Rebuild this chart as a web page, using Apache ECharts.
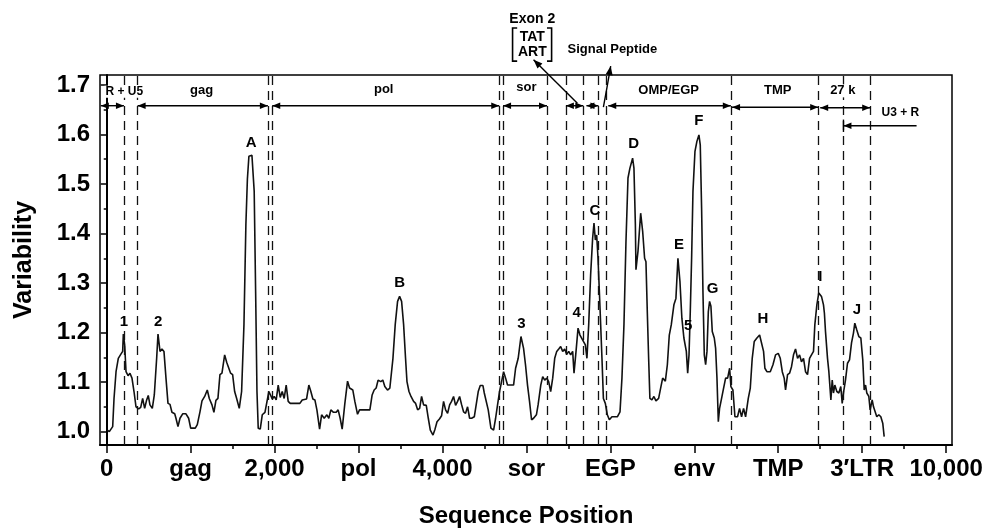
<!DOCTYPE html>
<html><head><meta charset="utf-8">
<script src="https://cdn.jsdelivr.net/npm/echarts@6/dist/echarts.min.js"></script>
<style>html,body{margin:0;padding:0;background:#fff}#c{width:982px;height:530px}</style>
</head><body><div id="c"></div>
<script>
const seqPos = [7,31,71,87,111,138,167,190,198,214,230,254,277,301,325,349,381,405,428,452,476,495,515,543,567,595,611,635,658,682,706,730,754,777,810,825,849,873,905,944,976,1000,1055,1079,1111,1135,1167,1198,1222,1254,1277,1301,1325,1349,1373,1405,1429,1452,1476,1500,1524,1548,1579,1607,1635,1658,1676,1694,1730,1757,1774,1790,1805,1829,1853,1885,1908,1932,1948,1972,1995,2019,2043,2067,2091,2114,2138,2162,2186,2301,2329,2381,2408,2432,2456,2480,2504,2536,2560,2591,2623,2646,2670,2702,2734,2757,2781,2805,2837,2869,2893,2932,2956,2988,3012,3135,3162,3186,3210,3233,3265,3289,3313,3345,3373,3410,3437,3465,3489,3513,3537,3560,3577,3601,3625,3656,3680,3704,3728,3751,3775,3807,3831,3855,3887,3911,3935,3966,3989,4013,4037,4061,4085,4108,4132,4156,4180,4204,4227,4251,4275,4299,4323,4347,4379,4402,4426,4450,4482,4498,4521,4545,4577,4609,4633,4656,4680,4704,4728,4752,4775,4847,4871,4902,4935,4966,4989,5013,5037,5061,5085,5119,5139,5171,5194,5218,5242,5265,5289,5313,5337,5361,5385,5408,5432,5456,5480,5504,5527,5551,5567,5591,5615,5638,5655,5679,5702,5721,5742,5765,5789,5805,5821,5837,5853,5877,5900,5917,5940,5964,5988,6019,6083,6115,6138,6162,6186,6210,6233,6265,6281,6298,6305,6329,6361,6385,6408,6424,6440,6456,6471,6495,6519,6543,6575,6599,6623,6655,6679,6702,6726,6757,6781,6805,6829,6852,6876,6905,6921,6937,6952,6968,6984,7008,7031,7055,7071,7087,7103,7119,7135,7151,7167,7182,7198,7214,7238,7254,7270,7286,7301,7325,7349,7373,7397,7421,7436,7460,7484,7515,7539,7563,7587,7611,7643,7667,7690,7714,7746,7778,7801,7825,7841,7865,7905,7937,7968,8000,8024,8048,8071,8087,8111,8135,8158,8182,8206,8230,8254,8277,8301,8325,8349,8373,8396,8420,8436,8460,8483,8515,8539,8550,8563,8587,8603,8627,8643,8658,8674,8698,8722,8745,8762,8777,8801,8825,8849,8873,8896,8912,8936,8960,8984,9007,9024,9040,9055,9079,9095,9119,9135,9150,9174,9198,9222,9245,9262];
const variability = [1.003,1.000,1.010,1.067,1.121,1.148,1.156,1.162,1.197,1.175,1.121,1.113,1.118,1.108,1.081,1.050,1.046,1.049,1.067,1.047,1.064,1.073,1.054,1.047,1.074,1.148,1.197,1.162,1.167,1.162,1.108,1.057,1.055,1.039,1.036,1.027,1.010,1.027,1.036,1.036,1.027,1.007,1.007,1.014,1.040,1.062,1.071,1.084,1.067,1.054,1.039,1.063,1.067,1.115,1.118,1.155,1.140,1.136,1.118,1.115,1.081,1.067,1.047,1.081,1.216,1.418,1.510,1.556,1.558,1.485,1.283,1.081,1.007,1.005,1.034,1.039,1.040,1.081,1.084,1.066,1.071,1.064,1.094,1.069,1.081,1.067,1.094,1.061,1.057,1.057,1.064,1.066,1.094,1.081,1.066,1.064,1.044,1.005,1.034,1.027,1.034,1.027,1.044,1.039,1.039,1.044,1.027,1.005,1.057,1.102,1.088,1.084,1.061,1.035,1.044,1.044,1.074,1.084,1.088,1.104,1.101,1.104,1.091,1.084,1.088,1.148,1.216,1.263,1.273,1.263,1.216,1.148,1.101,1.081,1.071,1.061,1.057,1.044,1.047,1.071,1.054,1.053,1.027,1.003,0.993,1.005,1.020,1.026,1.032,1.061,1.044,1.037,1.054,1.061,1.071,1.053,1.061,1.071,1.055,1.040,1.037,1.050,1.027,1.027,1.030,1.034,1.081,1.093,1.093,1.078,1.081,1.044,1.007,1.003,1.027,1.054,1.081,1.101,1.121,1.108,1.094,1.094,1.128,1.148,1.192,1.168,1.135,1.094,1.061,1.024,1.027,1.034,1.054,1.094,1.111,1.104,1.108,1.101,1.081,1.108,1.148,1.162,1.167,1.172,1.162,1.167,1.156,1.162,1.155,1.162,1.118,1.162,1.209,1.195,1.199,1.182,1.175,1.148,1.216,1.317,1.391,1.421,1.387,1.397,1.350,1.249,1.148,1.067,1.057,1.034,1.024,1.030,1.030,1.040,1.108,1.216,1.384,1.512,1.532,1.552,1.532,1.418,1.327,1.364,1.441,1.404,1.350,1.343,1.242,1.148,1.067,1.064,1.071,1.062,1.067,1.088,1.108,1.102,1.135,1.195,1.216,1.256,1.269,1.350,1.303,1.229,1.189,1.162,1.118,1.155,1.242,1.350,1.485,1.566,1.586,1.599,1.579,1.451,1.283,1.155,1.135,1.162,1.242,1.263,1.253,1.202,1.189,1.168,1.108,1.020,1.047,1.067,1.088,1.108,1.108,1.128,1.091,1.084,1.030,1.030,1.047,1.030,1.047,1.030,1.067,1.088,1.148,1.182,1.189,1.195,1.199,1.162,1.128,1.121,1.121,1.135,1.155,1.158,1.148,1.121,1.108,1.084,1.115,1.118,1.131,1.155,1.167,1.148,1.155,1.141,1.148,1.121,1.115,1.148,1.155,1.162,1.216,1.256,1.280,1.273,1.256,1.239,1.202,1.148,1.121,1.064,1.104,1.078,1.094,1.081,1.078,1.091,1.057,1.078,1.104,1.138,1.145,1.179,1.199,1.219,1.205,1.192,1.189,1.145,1.084,1.094,1.078,1.071,1.044,1.064,1.050,1.047,1.030,1.034,1.030,1.017,0.990];

const xTickValues = [0,1000,2000,3000,4000,5000,6000,7000,8000,9000,10000];
const xTickLabels = ['0','gag','2,000','pol','4,000','sor','EGP','env','TMP','3\u2032LTR','10,000'];
const xMinorTicks = [500,1500,2500,3500,4500,5500,6500,7500,8500,9500];
const yTickValues = [1.0,1.1,1.2,1.3,1.4,1.5,1.6,1.7];
const yMinorTicks = [1.05,1.15,1.25,1.35,1.45,1.55,1.65];
const boundaries = [205,368,1920,1972,4676,4722,5254,5470,5678,5858,5952,7435,8476,8777,9095];
// regions: label, start, end, arrow level, label x, label level, heads [left,right]
const regions = [
  ['R + U5', -70, 205, 1.658, 210, 1.686, [1,1]],
  ['gag', 368, 1920, 1.658, 1131, 1.688, [1,1]],
  ['pol', 1972, 4676, 1.658, 3300, 1.690, [1,1]],
  ['sor', 4722, 5245, 1.658, 5000, 1.694, [1,1]],
  ['', 5470, 5678, 1.658, 0, 0, [1,1]],
  ['', 5715, 5858, 1.658, 0, 0, [1,1]],
  ['OMP/EGP', 5975, 7435, 1.658, 6694, 1.688, [1,1]],
  ['TMP', 7450, 8476, 1.655, 7995, 1.688, [1,1]],
  ['27 k', 8500, 9095, 1.654, 8769, 1.688, [1,1]],
  ['U3 + R', 8777, 9648, 1.6176, 9455, 1.643, [1,0]]
];
const peakLabels = [['1',206,1.222],['2',612,1.222],['A',1721,1.583],['B',3490,1.300],['3',4939,1.218],['4',5598,1.240],['C',5817,1.446],['D',6278,1.581],['E',6819,1.377],['5',6926,1.214],['F',7053,1.628],['G',7217,1.288],['H',7817,1.228],['I',8500,1.313],['J',8938,1.246]];

const FONT = '"Liberation Sans", Arial, Helvetica, sans-serif';
const lineData = seqPos.map((p,i)=>[p, variability[i]]);

const chart = echarts.init(document.getElementById('c'), null, {renderer:'canvas'});
const axisCommon = {min:0.973, max:1.72};
const option = {
  animation:false,
  backgroundColor:'#fff',
  grid:{left:100, right:30, top:75, bottom:85, show:true, borderColor:'#000', borderWidth:1.5, backgroundColor:'transparent', containLabel:false, outerBoundsMode:'none'},
  xAxis:[{
    type:'value', min:-80, max:10070, position:'bottom',
    axisLine:{show:true, lineStyle:{color:'#000', width:2}},
    axisTick:{show:true, customValues:xTickValues, length:8, lineStyle:{color:'#000', width:1.5}},
    axisLabel:{show:true, customValues:xTickValues, margin:12, color:'#000', fontFamily:FONT, fontWeight:'bold', fontSize:24,
      formatter:(v)=>{const i=xTickValues.indexOf(v); return i>=0?xTickLabels[i]:'';}},
    splitLine:{show:false},
    name:'Sequence Position', nameLocation:'middle', nameGap:59,
    nameTextStyle:{color:'#000', fontFamily:FONT, fontWeight:'bold', fontSize:24}
  },{
    type:'value', min:-80, max:10070, position:'bottom',
    axisLine:{show:false},
    axisTick:{show:true, customValues:xMinorTicks, length:4, lineStyle:{color:'#000', width:1.5}},
    axisLabel:{show:false}, splitLine:{show:false}
  }],
  yAxis:[{
    type:'value', ...axisCommon, position:'left',
    axisLine:{show:true, lineStyle:{color:'#000', width:2}},
    axisTick:{show:true, customValues:yTickValues, length:6, lineStyle:{color:'#000', width:1.5}},
    axisLabel:{show:true, customValues:yTickValues, margin:10, color:'#000', fontFamily:FONT, fontWeight:'bold', fontSize:24,
      formatter:(v)=>v.toFixed(1)},
    splitLine:{show:false},
    name:'Variability', nameLocation:'middle', nameGap:63, nameRotate:90,
    nameTextStyle:{color:'#000', fontFamily:FONT, fontWeight:'bold', fontSize:25}
  },{
    type:'value', ...axisCommon, position:'left',
    axisLine:{show:false},
    axisTick:{show:true, customValues:yMinorTicks, length:3, lineStyle:{color:'#000', width:1.5}},
    axisLabel:{show:false}, splitLine:{show:false}
  }],
  series:[{
    type:'line', data:lineData, xAxisIndex:0, yAxisIndex:0,
    showSymbol:false, symbol:'none', smooth:false,
    lineStyle:{color:'#111', width:1.6},
    markLine:{silent:true, symbol:['none','none'], label:{show:false},
      lineStyle:{color:'#111', width:1.3, type:[9,6]},
      data: boundaries.map(b=>({xAxis:b}))}
  }]
};
chart.setOption(option);

const P = (x,y)=>chart.convertToPixel({seriesIndex:0},[x,y]);
const g = [];
const ST = {stroke:'#000', lineWidth:1.4};
function head(tip, from, len, hw){
  len = len||8; hw = hw||3.2;
  const dx = tip[0]-from[0], dy = tip[1]-from[1];
  const d = Math.sqrt(dx*dx+dy*dy)||1; const ux=dx/d, uy=dy/d;
  const bx = tip[0]-ux*len, by = tip[1]-uy*len;
  return {type:'polygon', shape:{points:[[tip[0],tip[1]],[bx-uy*hw,by+ux*hw],[bx+uy*hw,by-ux*hw]]}, style:{fill:'#000'}, z:100};
}
function txt(s, p, size, bg){
  const st = {text:s, fill:'#000', font:'bold '+size+'px '+FONT, textAlign:'center', textVerticalAlign:'middle'};
  if(bg){ st.backgroundColor = '#fff'; st.padding = [0,1]; }
  return {type:'text', x:p[0], y:p[1], style:st, z:100};
}
regions.forEach(r=>{
  const a=P(r[1],r[3]), b=P(r[2],r[3]);
  g.push({type:'line', shape:{x1:a[0],y1:a[1],x2:b[0],y2:b[1]}, style:ST, z:100});
  if(r[6][0]) g.push(head(a,b));
  if(r[6][1]) g.push(head(b,a));
  if(r[0]) g.push(txt(r[0], P(r[4], r[5]), r[0]==='R + U5'||r[0]==='U3 + R'?12:13, true));
});
// U3 + R start bar
(function(){const a=P(8777,1.630), b=P(8777,1.605); g.push({type:'line', shape:{x1:a[0],y1:a[1],x2:b[0],y2:b[1]}, style:ST, z:100});})();
peakLabels.forEach(p=>g.push(txt(p[0], P(p[1],p[2]), 15)));
// Exon 2 annotation
g.push(txt('Exon 2', P(5070,1.832), 14));
g.push(txt('TAT', P(5070,1.797), 14));
g.push(txt('ART', P(5070,1.766), 14));
[[4835,4890],[5300,5245]].forEach(bk=>{
  const t1=P(bk[1],1.815), t0=P(bk[0],1.815), b0=P(bk[0],1.748), b1=P(bk[1],1.748);
  g.push({type:'polyline', shape:{points:[t1,t0,b0,b1]}, style:{stroke:'#000', lineWidth:1.6, fill:null}, z:100});
});
(function(){
  const tip=P(5085,1.751), tail=P(5607,1.663);
  g.push({type:'line', shape:{x1:tail[0],y1:tail[1],x2:tip[0],y2:tip[1]}, style:ST, z:100});
  g.push(head(tip, tail, 9, 3.5));
  g.push(txt('Signal Peptide', P(6024,1.771), 13));
  const s0=P(5917,1.655), s1=P(5960,1.695), s2=P(6004,1.738);
  g.push({type:'polyline', shape:{points:[s0,s1,s2]}, style:{stroke:'#000', lineWidth:1.4, fill:null}, z:100});
  g.push(head(s2, s1, 9, 3.5));
})();
chart.setOption({graphic:g});
</script>
</body></html>
